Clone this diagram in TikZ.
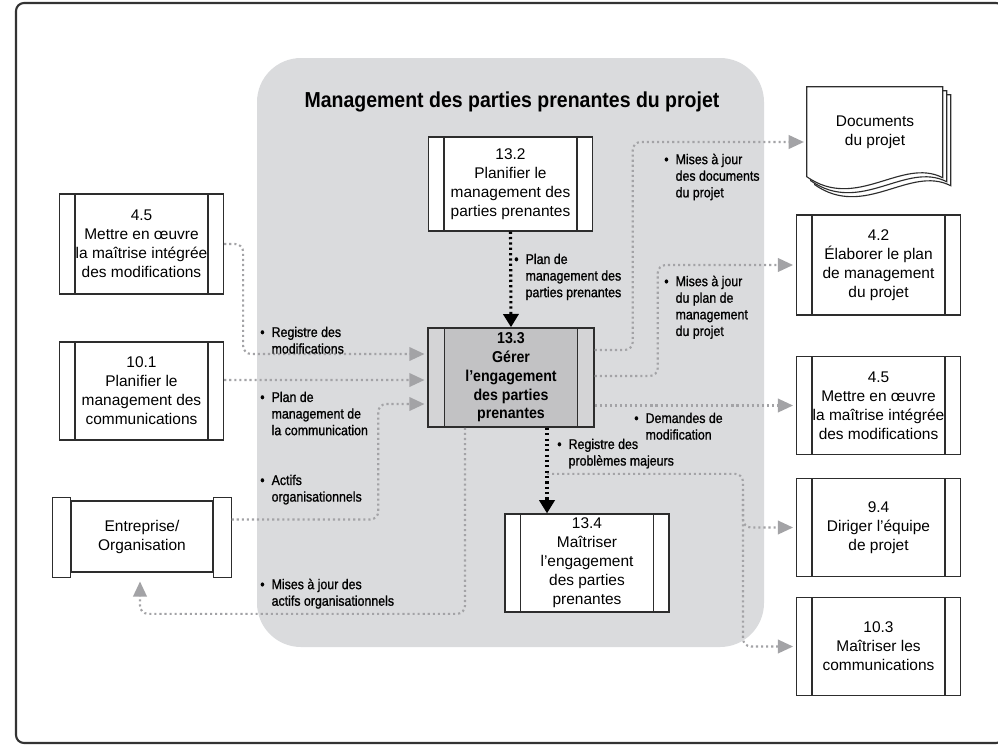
\documentclass[tikz,border=0pt]{standalone}
\usepackage{fontspec}
\setmainfont{Liberation Sans}
\newfontfamily\lblfont[FakeStretch=0.88,FakeBold=1]{Liberation Sans}
\newfontfamily\narrowfont[FakeStretch=0.9]{Liberation Sans}
\usetikzlibrary{arrows.meta,calc}
\definecolor{regiongray}{RGB}{218,219,221}
\definecolor{flowgray}{RGB}{163,163,166}
\definecolor{boxline}{RGB}{45,45,45}
\definecolor{mainfill}{RGB}{194,194,196}
\definecolor{sidefill}{RGB}{212,212,214}
\newcommand\lbul{\textbullet\enspace}
\newcommand\lind{\hphantom{\textbullet\enspace}}
\begin{document}
\begin{tikzpicture}[x=0.025cm,y=-0.025cm,
  boxfont/.style={font=\fontsize{11}{13.5}\selectfont},
  proc/.style={draw=boxline, line width=0.9pt, fill=white, minimum width=4.1cm,
    minimum height=2.45cm, inner sep=0pt, align=center, boxfont,
    path picture={\draw[boxline, line width=0.9pt]
      ([xshift=0.39cm]path picture bounding box.north west) -- ([xshift=0.39cm]path picture bounding box.south west)
      ([xshift=-0.39cm]path picture bounding box.north east) -- ([xshift=-0.39cm]path picture bounding box.south east);}},
  mainproc/.style={draw=boxline, line width=1pt, fill=sidefill, minimum width=4.15cm,
    minimum height=2.48cm, inner sep=0pt, align=center,
    font=\narrowfont\bfseries\fontsize{11.2}{13.3}\selectfont,
    path picture={\fill[mainfill]
      ([xshift=0.42cm]path picture bounding box.north west) rectangle ([xshift=-0.42cm]path picture bounding box.south east);
      \draw[boxline, line width=0.9pt]
      ([xshift=0.42cm]path picture bounding box.north west) -- ([xshift=0.42cm]path picture bounding box.south west)
      ([xshift=-0.42cm]path picture bounding box.north east) -- ([xshift=-0.42cm]path picture bounding box.south east);}},
  entbody/.style={draw=boxline, line width=0.9pt, fill=white, minimum width=3.55cm,
    minimum height=1.775cm, inner sep=0pt, align=center, boxfont},
  lbl/.style={anchor=north west, inner sep=0pt, align=left,
    font=\lblfont\fontsize{10}{11.8}\selectfont},
  flow/.style={draw=flowgray, line width=1.5pt, dash pattern=on 1.5pt off 2.1pt,
    rounded corners=0.2cm, -{Triangle[length=0.38cm,width=0.34cm,fill=flowgray]}, shorten >=2pt},
  blk/.style={draw=black, line width=2.2pt, dash pattern=on 1.6pt off 2.2pt,
    -{Triangle[length=0.33cm,width=0.38cm]}}
]
\useasboundingbox (0,0) rectangle (998,745);
% outer frame
\draw[line width=1.5pt, black!80, rounded corners=0.2cm] (16,3) rectangle (1004,743);
% process group region
\fill[regiongray, rounded corners=1.1cm] (257,58) rectangle (764,647);
\node[font=\narrowfont\bfseries\fontsize{15.4}{17}\selectfont] (title) at (512,102) {Management des parties prenantes du projet};

% process boxes
\node[proc, minimum height=2.35cm] (b132) at (510.5,184) {13.2\\Planifier le\\management des\\parties prenantes};
\node[mainproc] (b133) at (511,377.5) {13.3\\Gérer\\l’engagement\\des parties\\prenantes};
\node[proc] (b134) at (587,563) {13.4\\Maîtriser\\l’engagement\\des parties\\prenantes};
\node[proc, minimum height=2.5cm] (L45) at (141.5,244) {4.5\\Mettre en œuvre\\la maîtrise intégrée\\des modifications};
\node[proc] (L101) at (141.5,391) {10.1\\Planifier le\\management des\\communications};
\node[proc, minimum height=2.5cm] (R42) at (878.5,265) {4.2\\Élaborer le plan\\de management\\du projet};
\node[proc] (R45) at (878.5,405.5) {4.5\\Mettre en œuvre\\la maîtrise intégrée\\des modifications};
\node[proc] (R94) at (878.5,527.5) {9.4\\Diriger l’équipe\\de projet};
\node[proc] (R103) at (878.5,646.5) {10.3\\Maîtriser les\\communications};

% enterprise (scroll-like)
\node[entbody] (ent) at (142,536.5) {Entreprise/\\Organisation};
\draw[boxline, line width=0.9pt, fill=white] ($(ent.north west)+(-18,-3)$) rectangle ($(ent.south west)+(0,5)$);
\draw[boxline, line width=0.9pt, fill=white] ($(ent.north east)+(0,-3)$) rectangle ($(ent.south east)+(18,5)$);

% documents (stacked sheets)
\node[minimum width=3.4cm, minimum height=2.325cm, inner sep=0pt] (docs) at (875,133.5) {};
\begin{scope}[shift={(docs.north west)}]
  \foreach \d in {8,4,0}{
    \draw[boxline, line width=0.8pt, fill=white, shift={(\d,\d)}]
      (0,0) -- (136,0) -- (136,91) .. controls (95,70) and (50,125) .. (0,90) -- cycle;
  }
\end{scope}
\node[align=center, boxfont] (docstext) at (875,132.5) {Documents\\du projet};

% incoming flows to 13.3
\draw[flow] (L45.east) -- ++(19,0) |- ($(b133.west)+(0,-23.5)$);
\draw[flow] ($(L101.east)+(0,-11)$) -- ($(b133.west)+(0,2.5)$);
\draw[flow] ($(ent.east)+(18,-17)$) -| ($(b133.west)+(-49,26.5)$) -- ($(b133.west)+(0,26.5)$);
\draw[blk] (b132.south) -- (b133.north);

% outgoing flows
\draw[flow] ($(b133.south)+(-46,0)$) -- ++(0,186) -| ($(ent.south)+(-2,6)$);
\draw[flow] ($(b133.east)+(0,-27.5)$) -- ++(38,0) |- ($(docs.west)+(0,8.5)$);
\draw[flow] ($(b133.east)+(0,-1.5)$) -- ++(63,0) |- (R42.west);
\draw[flow] ($(b133.east)+(0,28)$) -- (R45.west);
\draw[blk] ($(b133.south)+(36,0)$) -- ($(b134.north)+(-40,0)$);
\coordinate (br) at ($(b133.south)+(36,46)$);
\draw[flow] (br) -- ++(196,0) |- (R103.west);
\draw[flow] ($(br)+(196,25)$) |- (R94.west);

% labels
\node[lbl] (lab1) at (260,326.5) {\lbul Registre des\\\lind modifications};
\node[lbl] (lab2) at (260,391.5) {\lbul Plan de\\\lind management de\\\lind la communication};
\node[lbl] (lab3) at (260,474.5) {\lbul Actifs\\\lind organisationnels};
\node[lbl] (lab4) at (260,578.5) {\lbul Mises à jour des\\\lind actifs organisationnels};
\node[lbl] (lab5) at (514,253.5) {\lbul Plan de\\\lind management des\\\lind parties prenantes};
\node[lbl] (lab6) at (664,153.5) {\lbul Mises à jour\\\lind des documents\\\lind du projet};
\node[lbl] (lab7) at (664,275.5) {\lbul Mises à jour\\\lind du plan de\\\lind management\\\lind du projet};
\node[lbl] (lab8) at (634,412.5) {\lbul Demandes de\\\lind modification};
\node[lbl] (lab9) at (557,438.5) {\lbul Registre des\\\lind problèmes majeurs};
\end{tikzpicture}
\end{document}
